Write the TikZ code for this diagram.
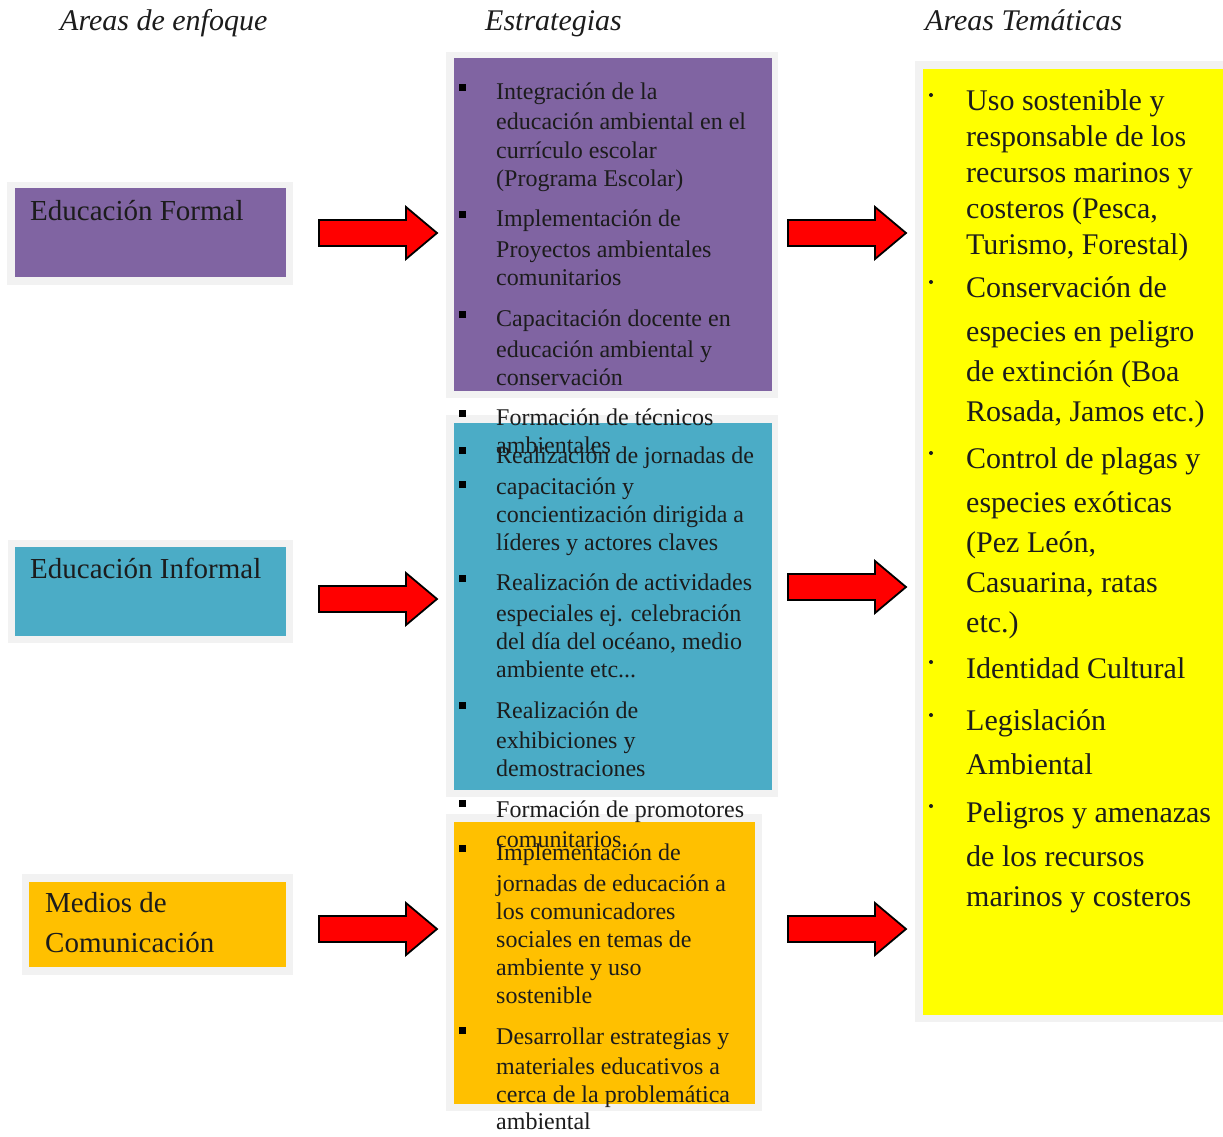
\documentclass[tikz,border=0pt]{standalone}
\usepackage{fontspec}
\setmainfont{Liberation Serif}
\definecolor{halo}{HTML}{F2F2F2}
\definecolor{purpbox}{HTML}{8064A2}
\definecolor{tealbox}{HTML}{4BACC6}
\definecolor{orngbox}{HTML}{FFC000}
\definecolor{yelbox}{HTML}{FFFF00}
\definecolor{txt}{HTML}{1C1C1C}
\definecolor{arrred}{HTML}{FF0000}
\tikzset{
  boxnode/.style={anchor=north west, inner sep=0, outer sep=0, draw=none},
  lnbase/.style={anchor=west, inner sep=0, text height=0.7em, text depth=0.25em, text=txt, yshift=-5pt},
  lnm/.style={lnbase, font=\fontsize{24}{28}\selectfont},
  lny/.style={lnbase, yshift=-3pt, font=\fontsize{30}{34}\selectfont},
  lnl/.style={lnbase, yshift=-1pt, font=\fontsize{29}{33}\selectfont},
  hdr/.style={lnbase, yshift=-3pt, font=\fontsize{30}{34}\selectfont\itshape},
  sqbullet/.style={fill=black, minimum size=7pt, inner sep=0, outer sep=0},
  dotbullet/.style={fill=txt, circle, minimum size=4pt, inner sep=0, outer sep=0},
  blockarr/.style={fill=arrred, draw=black, line width=1.8pt, line join=miter},
}
\newcommand\blockarrow[3]{% name, x, y
  \coordinate (#1) at (#2,#3);
  \draw[blockarr] ([shift={(-59,-13)}]#1) -- ([shift={(28,-13)}]#1) -- ([shift={(28,-26)}]#1)
     -- ([shift={(59,0)}]#1) -- ([shift={(28,26)}]#1) -- ([shift={(28,13)}]#1)
     -- ([shift={(-59,13)}]#1) -- cycle;}
\begin{document}
\begin{tikzpicture}[x=1pt,y=-1pt]
\useasboundingbox[fill=white] (0,0) rectangle (1223,1136);

% headers
\node[hdr] (h1) at (60,20) {Areas de enfoque};
\node[hdr] (h2) at (485,20) {Estrategias};
\node[hdr] (h3) at (925,20) {Areas Temáticas};

% left boxes
\fill[halo] (7,182) rectangle (293,285);
\node[boxnode, fill=purpbox, minimum width=271pt, minimum height=89pt] (lf) at (15,188) {};
\fill[halo] (8,540) rectangle (293,643);
\node[boxnode, fill=tealbox, minimum width=271pt, minimum height=89pt] (li) at (15,547) {};
\fill[halo] (22,874) rectangle (293,975);
\node[boxnode, fill=orngbox, minimum width=257pt, minimum height=85pt] (lm) at (29,882) {};
\node[lnl] (tf) at (30,212) {Educación Formal};
\node[lnl] (ti) at (30,570) {Educación Informal};
\node[lnl] (tm1) at (45,904) {Medios de};
\node[lnl] (tm2) at (45,944) {Comunicación};

% middle boxes
\fill[halo] (446,52) rectangle (778,398);
\node[boxnode, fill=purpbox, minimum width=318pt, minimum height=333pt] (mf) at (454,58) {};
\fill[halo] (446,415) rectangle (778,797);
\node[boxnode, fill=tealbox, minimum width=318pt, minimum height=367pt] (mi) at (454,423) {};
\fill[halo] (446,814) rectangle (762,1111);
\node[boxnode, fill=orngbox, minimum width=301pt, minimum height=282pt] (mm) at (454,822) {};

% right box
\fill[halo] (915,61) rectangle (1223,1022);
\node[boxnode, fill=yelbox, minimum width=300pt, minimum height=946pt] (ry) at (923,69) {};

% arrows
\blockarrow{a1}{378}{233}
\blockarrow{a2}{378}{599}
\blockarrow{a3}{378}{929}
\blockarrow{b1}{847}{233}
\blockarrow{b2}{847}{587}
\blockarrow{b3}{847}{929}

% middle bullets
\foreach \yy [count=\i] in {87,214,314,413,450,484,578,705,803,848,1030}
  \node[sqbullet] (sb\i) at (462,\yy) {};

% middle text
\foreach \yy/\tt [count=\i] in {
  92/{Integración de la},
  122/{educación ambiental en el},
  151/{currículo escolar},
  179/{(Programa Escolar)},
  219/{Implementación de},
  250/{Proyectos ambientales},
  278/{comunitarios},
  319/{Capacitación docente en},
  350/{educación ambiental y},
  378/{conservación},
  418/{Formación de técnicos},
  446/{ambientales},
  456/{Realización de jornadas de},
  487/{capacitación y},
  515/{concientización dirigida a},
  543/{líderes y actores claves},
  583/{Realización de actividades},
  614/{especiales ej. celebración},
  642/{del día del océano, medio},
  670/{ambiente etc...},
  711/{Realización de},
  741/{exhibiciones y},
  769/{demostraciones},
  810/{Formación de promotores},
  840/{comunitarios.},
  853/{Implementación de},
  884/{jornadas de educación a},
  912/{los comunicadores},
  940/{sociales en temas de},
  968/{ambiente y uso},
  996/{sostenible},
  1037/{Desarrollar estrategias y},
  1067/{materiales educativos a},
  1095/{cerca de la problemática},
  1122/{ambiental}}
  \node[lnm] (m\i) at (496,\yy) {\tt};

% right bullets
\foreach \yy [count=\i] in {95,282,453,662,715,806}
  \node[dotbullet] (db\i) at (931,\yy) {};

% right text
\foreach \yy/\tt [count=\i] in {
  100/{Uso sostenible y},
  136/{responsable de los},
  172/{recursos marinos y},
  208/{costeros (Pesca,},
  244/{Turismo, Forestal)},
  287/{Conservación de},
  331/{especies en peligro},
  371/{de extinción (Boa},
  411/{Rosada, Jamos etc.)},
  458/{Control de plagas y},
  502/{especies exóticas},
  542/{(Pez León,},
  582/{Casuarina, ratas},
  622/{etc.)},
  668/{Identidad Cultural},
  720/{Legislación},
  764/{Ambiental},
  812/{Peligros y amenazas},
  856/{de los recursos},
  896/{marinos y costeros}}
  \node[lny] (r\i) at (966,\yy) {\tt};
\end{tikzpicture}
\end{document}
